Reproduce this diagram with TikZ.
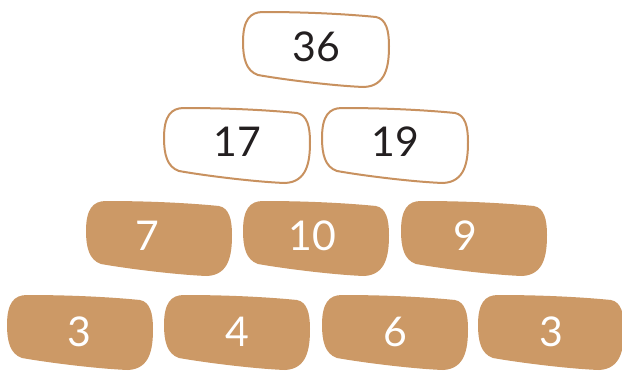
\documentclass[tikz,border=0pt]{standalone}
\usepackage{fontspec}
\setmainfont{Lato}
\definecolor{tan}{RGB}{204,153,102}
\definecolor{tanline}{RGB}{200,145,95}
\definecolor{ink}{RGB}{35,31,32}
\newcommand\brk[1]{\path[#1] (-53,-36) .. controls (0,-36) and (40,-33) .. (60,-31)
  .. controls (70,-29) and (73,-18) .. (73,-2)
  .. controls (73,18) and (70,38) .. (48,39)
  .. controls (20,38) and (-30,32) .. (-58,27)
  .. controls (-70,23) and (-73,10) .. (-73,-6)
  .. controls (-73,-28) and (-66,-36) .. (-53,-36) -- cycle;}
\tikzset{
  filledbrick/.style={fill=tan},
  outlinebrick/.style={draw=tanline, line width=2pt, fill=white},
  numw/.style={text=white, font=\fontsize{41}{44}\selectfont, inner sep=0pt},
  numk/.style={text=ink, font=\fontsize{41}{44}\selectfont, inner sep=0pt},
}
\begin{document}
\begin{tikzpicture}[x=1pt,y=-1pt]
\useasboundingbox (0,0) rectangle (622,372);
\clip (0,0) rectangle (622,372);
% top
\begin{scope}[shift={(316,48)}]\brk{outlinebrick}\end{scope}
\node[numk] (t36) at (316,47) {36};
% row 2
\begin{scope}[shift={(237,144)}]\brk{outlinebrick}\end{scope}
\begin{scope}[shift={(395,144)}]\brk{outlinebrick}\end{scope}
\node[numk] (s17) at (237,142) {17};
\node[numk] (s19) at (395,142) {19};
% row 3
\begin{scope}[shift={(159,237)}]\brk{filledbrick}\end{scope}
\begin{scope}[shift={(316,237)}]\brk{filledbrick}\end{scope}
\begin{scope}[shift={(474,237)}]\brk{filledbrick}\end{scope}
\node[numw] (r7) at (147,236) {7};
\node[numw] (r10) at (312,236) {10};
\node[numw] (r9) at (465,236) {9};
% row 4
\begin{scope}[shift={(80,331)}]\brk{filledbrick}\end{scope}
\begin{scope}[shift={(237,331)}]\brk{filledbrick}\end{scope}
\begin{scope}[shift={(395,331)}]\brk{filledbrick}\end{scope}
\begin{scope}[shift={(551,331)}]\brk{filledbrick}\end{scope}
\node[numw] (b3) at (79,332) {3};
\node[numw] (b4) at (237,332) {4};
\node[numw] (b6) at (395,332) {6};
\node[numw] (b3r) at (551,332) {3};
\end{tikzpicture}
\end{document}
